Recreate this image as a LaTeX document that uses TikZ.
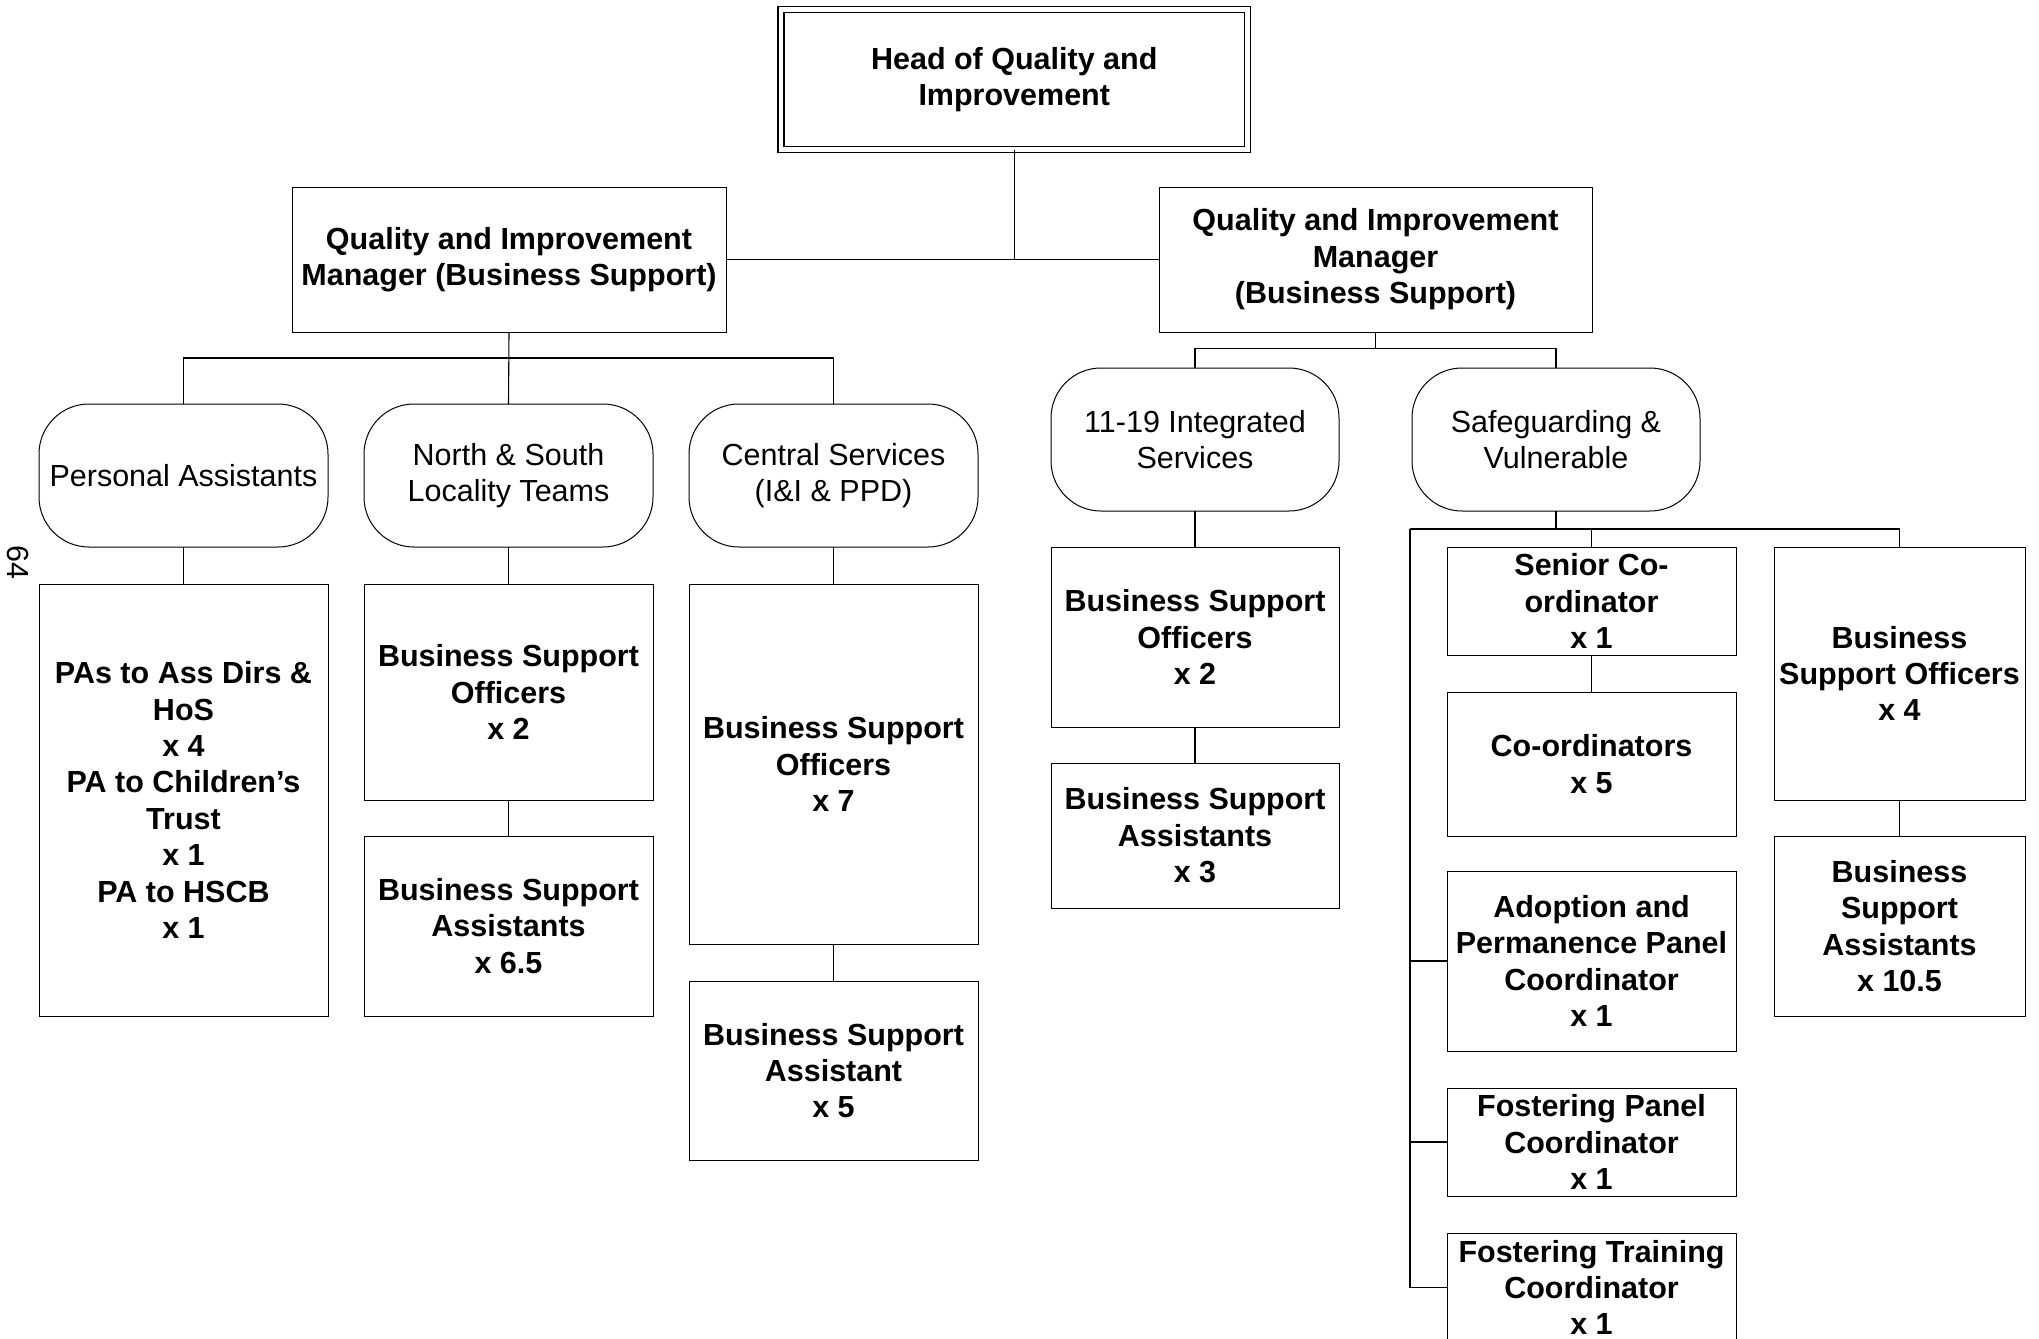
\documentclass[tikz,border=0pt]{standalone}
\usepackage{fontspec}
\setmainfont{Liberation Sans}
\begin{document}
\begin{tikzpicture}[x=0.5pt,y=-0.5pt,line width=0.5pt,
  sz/.style 2 args={minimum width=#1*0.5pt,minimum height=#2*0.5pt},
  box/.style={draw,rectangle,line width=0.5pt,inner sep=0pt,outer sep=0pt,align=center,
    font=\bfseries\fontsize{15.25pt}{18.2pt}\selectfont},
  rbox/.style={draw,rectangle,line width=0.5pt,rounded corners=25pt,inner sep=0pt,outer sep=0pt,align=center,
    font=\fontsize{15.25pt}{18.2pt}\selectfont},
  headbox/.style={box,line width=0.8pt,double,double distance=2.2pt},
  conn/.style={draw,line width=0.55pt}]
\useasboundingbox (0,0) rectangle (2039,1338);
\begin{scope}
\clip (0,0) rectangle (2039,1338);
% top
\node[headbox,sz={466.5}{140}] (head) at (1014.25,79.5) {Head of Quality and\\Improvement};
\node[box,sz={434}{145}] (lqim) at (509,259.5) {Quality and Improvement\\Manager (Business Support)};
\node[box,sz={433}{145}] (rqim) at (1375.5,259.5) {Quality and Improvement\\Manager\\(Business Support)};
% left rounded row
\node[rbox,sz={289}{143}] (pa) at (183.5,475.5) {Personal Assistants};
\node[rbox,sz={289}{143}] (ns) at (508.5,475.5) {North \& South\\Locality Teams};
\node[rbox,sz={289}{143}] (cs) at (833.5,475.5) {Central Services\\(I\&I \& PPD)};
% right rounded row
\node[rbox,sz={288}{143}] (it) at (1195,439.5) {11-19 Integrated\\Services};
\node[rbox,sz={288}{143}] (sg) at (1556,439.5) {Safeguarding \&\\Vulnerable};
% left boxes
\node[box,sz={289}{432}] (pab) at (183.5,800) {PAs to Ass Dirs \&\\HoS\\x 4\\PA to Children’s\\Trust\\x 1\\PA to HSCB\\x 1};
\node[box,sz={289}{216}] (nsbso) at (508.5,692) {Business Support\\Officers\\x 2};
\node[box,sz={289}{180}] (nsbsa) at (508.5,926) {Business Support\\Assistants\\x 6.5};
\node[box,sz={289}{360}] (csbso) at (833.5,764) {Business Support\\Officers\\x 7};
\node[box,sz={289}{179}] (csbsa) at (833.5,1070.5) {Business Support\\Assistant\\x 5};
% 11-19 boxes
\node[box,sz={288}{180}] (itbso) at (1195,637) {Business Support\\Officers\\x 2};
\node[box,sz={288}{145}] (itbsa) at (1195,835.5) {Business Support\\Assistants\\x 3};
% safeguarding boxes
\node[box,sz={289}{108}] (sen) at (1591.5,601) {Senior Co-\\ordinator\\x 1};
\node[box,sz={289}{144}] (cor) at (1591.5,764) {Co-ordinators\\x 5};
\node[box,sz={289}{180}] (ad) at (1591.5,961) {Adoption and\\Permanence Panel\\Coordinator\\x 1};
\node[box,sz={289}{108}] (fp) at (1591.5,1142) {Fostering Panel\\Coordinator\\x 1};
\node[box,sz={289}{109}] (ft) at (1591.5,1287.5) {Fostering Training\\Coordinator\\x 1};
\node[box,sz={251}{253}] (rbso) at (1899.5,673.5) {Business\\Support Officers\\x 4};
\node[box,sz={251}{180}] (rbsa) at (1899.5,926) {Business\\Support\\Assistants\\x 10.5};
% page number
\node[font=\fontsize{15.25pt}{18.2pt}\selectfont,rotate=-90,inner sep=0pt] (pg) at (18,562) {64};
% connectors
\coordinate (lbus) at (0,358);
\coordinate (rbus) at (0,348.5);
\coordinate (sbus) at (0,529);
\coordinate (sl) at (1410,529);
\draw[conn] (head.south) -- (head.south |- lqim.east);
\draw[conn] (lqim.east) -- (rqim.west);
\draw[conn] (lqim.south) -- (ns.north);
\draw[conn] (pa.north) -- (pa.north |- lbus) -- (cs.north |- lbus) -- (cs.north);
\draw[conn] (rqim.south) -- (rqim.south |- rbus);
\draw[conn] (it.north) -- (it.north |- rbus) -- (sg.north |- rbus) -- (sg.north);
\draw[conn] (pa.south) -- (pab.north);
\draw[conn] (ns.south) -- (nsbso.north);
\draw[conn] (nsbso.south) -- (nsbsa.north);
\draw[conn] (cs.south) -- (csbso.north);
\draw[conn] (csbso.south) -- (csbsa.north);
\draw[conn] (it.south) -- (itbso.north);
\draw[conn] (itbso.south) -- (itbsa.north);
\draw[conn] (sg.south) -- (sg.south |- sbus);
\draw[conn] (sl) -- (rbso.north |- sbus) -- (rbso.north);
\draw[conn] (sen.north |- sbus) -- (sen.north);
\draw[conn] (sen.south) -- (cor.north);
\draw[conn] (rbso.south) -- (rbsa.north);
\draw[conn] (sl) |- (ft.west);
\draw[conn] (sl |- ad.west) -- (ad.west);
\draw[conn] (sl |- fp.west) -- (fp.west);
\end{scope}
\end{tikzpicture}
\end{document}
